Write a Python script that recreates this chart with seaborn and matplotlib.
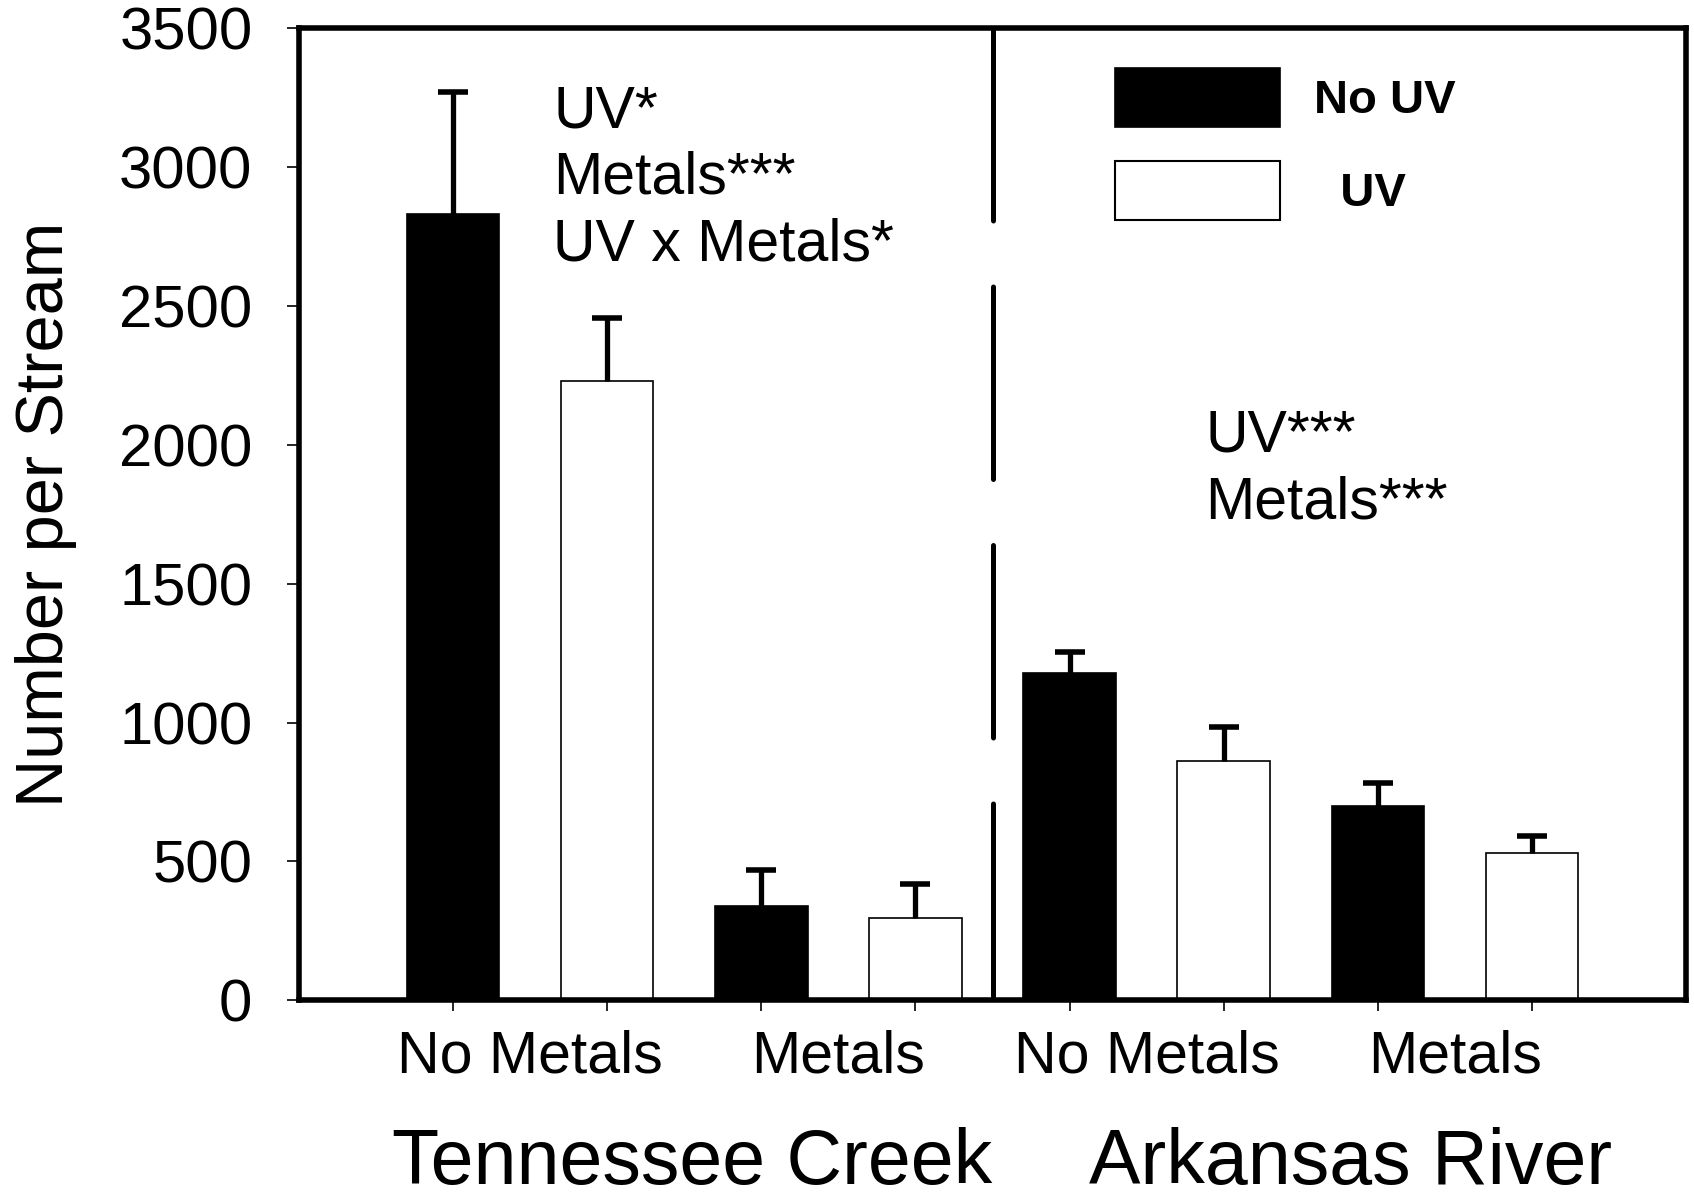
import matplotlib
matplotlib.use('Agg')
import matplotlib.pyplot as plt
import seaborn as sns
import pandas as pd
from matplotlib.patches import Patch

# data: order is site -> metals -> UV
sites = ["Tennessee Creek", "Arkansas River"]
metals = ["No Metals", "Metals"]
uv_levels = ["No UV", "UV"]
means = [2830, 2230, 340, 295, 1180, 860, 700, 532]
errors = [440, 226, 128, 124, 74, 124, 82, 61]

tn_stats = ["UV*", "Metals***", "UV x Metals*"]
ar_stats = ["UV***", "Metals***"]

rows = []
for s in sites:
    for m in metals:
        for u in uv_levels:
            rows.append((s, m, u))
df = pd.DataFrame(rows, columns=["site", "metals", "uv"])
df["mean"] = means
df["se"] = errors
df["bar"] = df["site"] + " | " + df["metals"] + " | " + df["uv"]

sns.set_theme(style="ticks")
plt.rcParams["font.family"] = ["Liberation Sans", "DejaVu Sans"]
# seaborn greys out the text, the original is plain black
for key in ["text.color", "axes.labelcolor", "xtick.color", "ytick.color"]:
    plt.rcParams[key] = "black"

fig = plt.figure(figsize=(16.94, 12.02), dpi=100)
ax = fig.add_axes([0.1765, 0.1678, 0.8188, 0.8087])

sns.barplot(data=df, x="bar", y="mean", hue="uv",
            palette={"No UV": "black", "UV": "white"},
            dodge=False, width=0.6, edgecolor="black", linewidth=1.2,
            legend=False, ax=ax)

pos = list(range(len(df)))
eb = ax.errorbar(pos, df["mean"], yerr=[[0] * len(df), df["se"]], fmt="none",
                 ecolor="black", elinewidth=3.8, capsize=11, capthick=4)
# only the upper half of the error bar is shown
eb[1][0].set_visible(False)
for c in eb[1]:
    c.set_solid_capstyle("round")

# dashed divider between the two streams
ax.plot([3.5, 3.5], [3500, -15], color="black", lw=3.6,
        dashes=(38.5, 13.2), dash_capstyle="round", zorder=5, clip_on=False)

ax.set_xlim(-1, 8)
ax.set_ylim(0, 3500)
ax.set_yticks(range(0, 3501, 500))
ax.tick_params(axis="y", labelsize=43, length=8.5, width=1.2, pad=25)

ax.set_xticks(pos)
ax.set_xticklabels([])
ax.tick_params(axis="x", which="major", length=8, width=1.2)
ax.set_xticks([0.5, 2.5, 4.5, 6.5], minor=True)
ax.set_xticklabels(metals * 2, minor=True)
ax.tick_params(axis="x", which="minor", length=0, labelsize=42.5, pad=21)

ax.set_xlabel("")
ax.set_ylabel("Number per Stream", fontsize=48)
ax.yaxis.set_label_coords(-0.160, 0.5)

for sp in ax.spines.values():
    sp.set_visible(True)
    sp.set_linewidth(4)
    sp.set_color("black")

# site names under the axis
ax.text(1.55, -0.189, sites[0], fontsize=55.5, ha="center", va="baseline",
        transform=ax.get_xaxis_transform())
ax.text(5.82, -0.189, sites[1], fontsize=55.5, ha="center", va="baseline",
        transform=ax.get_xaxis_transform())

# ANOVA results
for i, t in enumerate(tn_stats):
    ax.text(0.65, 3144 - i * 240, t, fontsize=42.5, ha="left", va="baseline")
for i, t in enumerate(ar_stats):
    ax.text(4.88, 1975 - i * 240, t, fontsize=42.5, ha="left", va="baseline")

handles = [Patch(facecolor="black", edgecolor="black", linewidth=1.2),
           Patch(facecolor="white", edgecolor="black", linewidth=1.5)]
ax.legend(handles, ["No UV", "  UV"], loc="upper left",
          bbox_to_anchor=(0.588, 0.959), frameon=False,
          prop={"weight": "bold", "size": 34},
          handlelength=3.5, handleheight=1.55, labelspacing=0.72,
          handletextpad=0.72, borderpad=0, borderaxespad=0)

plt.savefig("out.png", dpi=100)
plt.close()
